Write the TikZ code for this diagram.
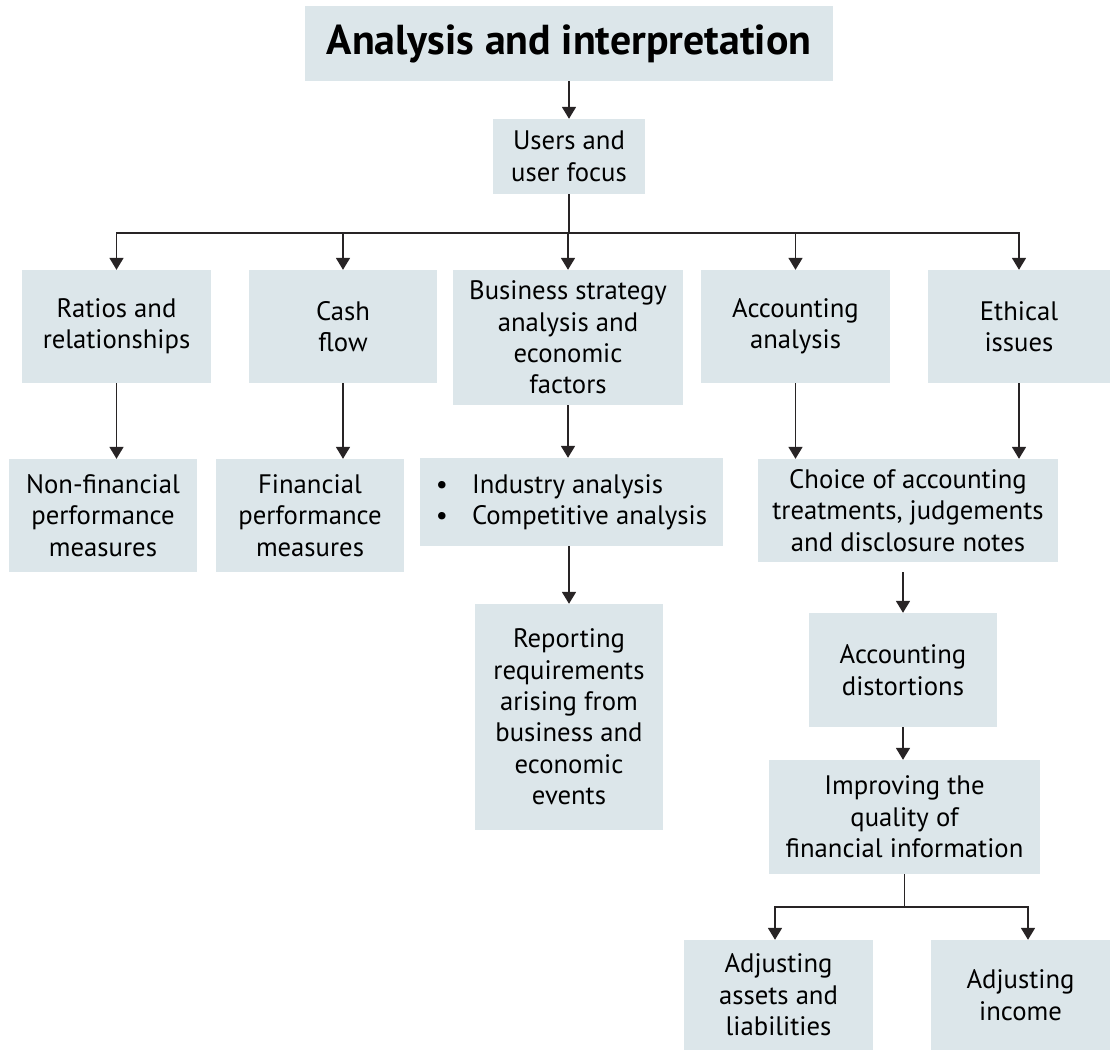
\documentclass[tikz,border=0pt]{standalone}
\usepackage{fontspec}
\setmainfont{PT Sans}
\usetikzlibrary{arrows.meta}
\definecolor{boxfill}{RGB}{220,230,234}
\definecolor{linkgray}{RGB}{40,36,37}
\newcommand{\boxfont}{\fontsize{26.8}{31.5}\selectfont}
\begin{document}
\begin{tikzpicture}[x=1bp,y=-1bp,
  box/.style={fill=boxfill,inner sep=0pt,align=center,font=\boxfont},
  link/.style={draw=linkgray,line width=1.8bp},
  arrow/.style={link,-{Triangle[width=14bp,length=12bp]}}]
  \useasboundingbox (0,0) rectangle (1112,1051);
  % top of the tree
  \node[box,minimum width=528bp,minimum height=75bp,font=\fontsize{42}{48}\selectfont\bfseries] (title) at (569,43.5) {Analysis and interpretation};
  \node[box,minimum width=152bp,minimum height=75bp] (users) at (569,156.5) {Users and\\user focus};
  % second row
  \node[box,minimum width=189bp,minimum height=113bp] (ratios) at (116.5,326.5) {Ratios and\\relationships};
  \node[box,minimum width=188bp,minimum height=113bp] (cash) at (343,326.5) {Cash\\flow};
  \node[box,minimum width=230bp,minimum height=135bp] (strategy) at (568,337.5) {Business strategy\\analysis and\\economic\\factors};
  \node[box,minimum width=189bp,minimum height=113bp] (accan) at (795.5,326.5) {Accounting\\analysis};
  \node[box,minimum width=182bp,minimum height=113bp] (ethical) at (1019,326.5) {Ethical\\issues};
  % third row
  \node[box,minimum width=303bp,minimum height=88bp,align=left] (industry) at (571.5,502) {\textbullet\hspace{0.9em}Industry analysis\\\textbullet\hspace{0.9em}Competitive analysis\hspace{0.6em}};
  \node[box,minimum width=188bp,minimum height=113bp] (nonfin) at (103,515.5) {Non-financial\\performance\\measures};
  \node[box,minimum width=188bp,minimum height=113bp] (fin) at (310,515.5) {Financial\\performance\\measures};
  \node[box,minimum width=300bp,minimum height=103bp] (choice) at (908,510.5) {Choice of accounting\\treatments, judgements\\and disclosure notes};
  % lower boxes
  \node[box,minimum width=188bp,minimum height=226bp] (reporting) at (569,717) {Reporting\\requirements\\arising from\\business and\\economic\\events};
  \node[box,minimum width=188bp,minimum height=114bp] (distort) at (903,670) {Accounting\\distortions};
  \node[box,minimum width=271bp,minimum height=114bp] (improve) at (904.5,817) {Improving the\\quality of\\financial information};
  \node[box,minimum width=189bp,minimum height=110bp] (adjassets) at (778.5,995) {Adjusting\\assets and\\liabilities};
  \node[box,minimum width=179bp,minimum height=110bp] (adjincome) at (1020.5,995) {Adjusting\\income};
  % connectors
  \coordinate (bus) at (569,233);
  \coordinate (split) at (904.5,907);
  \draw[arrow] (title) -- (users);
  \draw[link] (users.south) -- (bus);
  \foreach \n in {ratios,cash,strategy,accan,ethical}
    \draw[arrow] (bus) -| (\n.north);
  \draw[arrow] (ratios.south) -- (ratios.south |- nonfin.north);
  \draw[arrow] (cash.south) -- (cash.south |- fin.north);
  \draw[arrow] (strategy.south) -- (strategy.south |- industry.north);
  \draw[arrow] (accan.south) -- (accan.south |- choice.north);
  \draw[arrow] (ethical.south) -- (ethical.south |- choice.north);
  \draw[arrow] (industry.south -| reporting.north) -- (reporting.north);
  \draw[arrow] ([yshift=-10bp]choice.south -| distort.north) -- (distort.north);
  \draw[arrow] (distort.south) -- (distort.south |- improve.north);
  \draw[link] (improve.south) -- (split);
  \draw[arrow] (split) -| ([xshift=-3.5bp]adjassets.north);
  \draw[arrow] (split) -| ([xshift=7.5bp]adjincome.north);
\end{tikzpicture}
\end{document}
